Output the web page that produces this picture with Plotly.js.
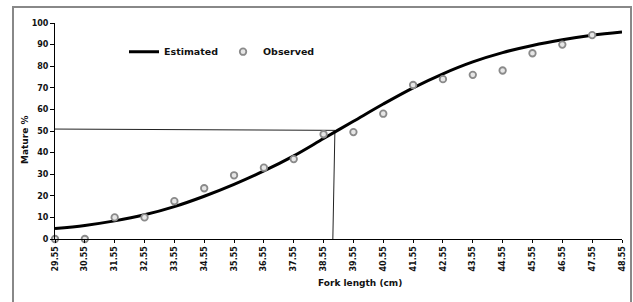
<!DOCTYPE html>
<html><head><meta charset="utf-8">
<script src="https://cdn.plot.ly/plotly-3.0.1.min.js"></script>
<style>html,body{margin:0;padding:0;background:#fff;}#chart{width:633px;height:302px;}</style>
</head><body><div id="chart"></div>
<script>
const lengths = [29.55,30.55,31.55,32.55,33.55,34.55,35.55,36.55,37.55,38.55,39.55,40.55,41.55,42.55,43.55,44.55,45.55,46.55,47.55,48.55];
const tickLabels = ["29.55","30.55","31.55","32.55","33.55","34.55","35.55","36.55","37.55","38.55","39.55","40.55","41.55","42.55","43.55","44.55","45.55","46.55","47.55","48.55"];
const estimated = [4.8,6.3,8.4,11.2,15.0,19.8,25.3,31.5,38.5,46.5,54.5,62.5,70.0,76.5,82.0,86.3,89.6,92.2,94.3,95.8];
const obsLengths = [29.55,30.55,31.55,32.55,33.55,34.55,35.55,36.55,37.55,38.55,39.55,40.55,41.55,42.55,43.55,44.55,45.55,46.55,47.55];
const observed = [0,0,10,10,17.5,23.5,29.5,33,37,48.5,49.5,58,71.3,74,76,78,86,90,94.4];
const refX = [29.55,38.93,38.86];
const refY = [50.9,50.3,0];

const traces = [
  {x: refX, y: refY, mode:'lines', line:{color:'#222', width:1}, showlegend:false, hoverinfo:'skip'},
  {x: lengths, y: estimated, name:'Estimated', mode:'lines', line:{color:'#000', width:3, shape:'spline'}},
  {x: obsLengths, y: observed, name:'Observed', mode:'markers', cliponaxis:false,
   marker:{symbol:'circle', size:6.5, color:'#e6e6e6', line:{color:'#8a8a8a', width:1.8}}}
];
const tickFont = {family:'DejaVu Sans, sans-serif', size:8, color:'#111', weight:'bold'};
const titleFont = {family:'DejaVu Sans, sans-serif', size:9, color:'#111', weight:'bold'};
const layout = {
  width:633, height:302,
  margin:{l:55, r:11, t:23, b:63},
  paper_bgcolor:'#fff', plot_bgcolor:'#fff',
  showlegend:true,
  legend:{orientation:'h', x:(124-55)/567, y:(239-51.7)/216, xanchor:'left', yanchor:'middle',
    font:{family:'DejaVu Sans, sans-serif', size:9.5, color:'#111', weight:'bold'},
    bgcolor:'rgba(0,0,0,0)', itemwidth:30, traceorder:'normal'},
  xaxis:{range:[29.55,48.55], tickvals:lengths, ticktext:tickLabels, tickangle:-90,
    showgrid:false, zeroline:false, showline:true, linecolor:'#000', linewidth:1,
    ticks:'outside', ticklen:3, tickcolor:'#000', tickfont:tickFont, fixedrange:true},
  yaxis:{range:[0,100], tickvals:[0,10,20,30,40,50,60,70,80,90,100], showgrid:false, zeroline:false,
    showline:true, linecolor:'#000', linewidth:1, ticks:'outside', ticklen:4, tickcolor:'#000',
    tickfont:tickFont},
  annotations:[
    {text:'Fork length (cm)', xref:'paper', yref:'paper', x:(360-55)/567, y:(239-283)/216,
     showarrow:false, xanchor:'center', yanchor:'middle', font:titleFont},
    {text:'Mature %', xref:'paper', yref:'paper', x:(25-55)/567, y:(239-140)/216, textangle:-90,
     showarrow:false, xanchor:'center', yanchor:'middle', font:titleFont}
  ],
  shapes:[{type:'rect', xref:'paper', yref:'paper', x0:(13-55)/567, x1:(631-55)/567, y0:(239-310)/216, y1:(239-7)/216,
    line:{color:'#888', width:2}, fillcolor:'rgba(0,0,0,0)', layer:'below'}]
};
Plotly.newPlot('chart', traces, layout, {displayModeBar:false, staticPlot:true});
</script></body></html>
